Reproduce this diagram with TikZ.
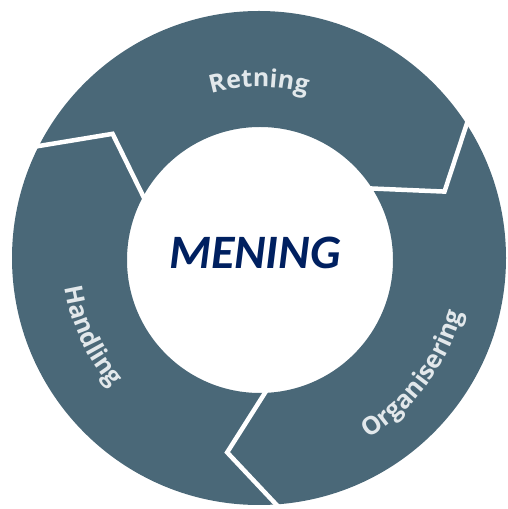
\documentclass[tikz,border=0pt]{standalone}
\usepackage{fontspec}
\newfontfamily\labelfamily{Open Sans}
\newfontfamily\centerfamily{Carlito}
\usetikzlibrary{decorations.text}
\definecolor{ringcol}{RGB}{74,104,120}
\definecolor{labelcol}{RGB}{226,232,235}
\definecolor{meningcol}{RGB}{0,32,96}
\newcommand{\lblfont}{\labelfamily\bfseries\fontsize{25}{25}\selectfont\color{labelcol}}
\begin{document}
\begin{tikzpicture}[x=1pt,y=1pt,
  ring/.style={fill=ringcol, even odd rule},
  sep/.style={draw=white, line width=4.5pt, line join=miter},
  centertext/.style={font=\centerfamily\bfseries\itshape\fontsize{48}{48}\selectfont, text=meningcol, inner sep=0pt}]
\useasboundingbox (0,0) rectangle (507,509);
\begin{scope}[shift={(259,251)}]
  \fill[ring] (0,0) circle[radius=247] (1,-2) circle[radius=133];
  % separators
  \coordinate (a1) at (154.5:256);
  \coordinate (k1) at (139.7:192);
  \coordinate (b1) at (154.0:125);
  \coordinate (a2) at (34.4:256);
  \coordinate (k2) at (19.7:197);
  \coordinate (b2) at (34.0:125);
  \coordinate (a3) at (275.6:256);
  \coordinate (k3) at (260.7:197);
  \coordinate (b3) at (275.8:125);
  \draw[sep] (a1) -- (k1) -- (b1);
  \draw[sep] (a2) -- (k2) -- (b2);
  \draw[sep] (a3) -- (k3) -- (b3);
  % labels along the ring
  \path[decorate, decoration={text along path, text align=center, text={|\lblfont|Retning}}]
    (130:171) arc[start angle=130, end angle=50, radius=171];
  \path[decorate, decoration={text along path, text align=center, text={|\lblfont|Handling}}]
    (175:196) arc[start angle=175, end angle=235, radius=196];
  \path[decorate, decoration={text along path, text align=center, text={|\lblfont|Organisering}}]
    (-80:211) arc[start angle=-80, end angle=6, radius=211];
  \node[centertext] (mening) at (-4,5.5) {MENING};
\end{scope}
\end{tikzpicture}
\end{document}
